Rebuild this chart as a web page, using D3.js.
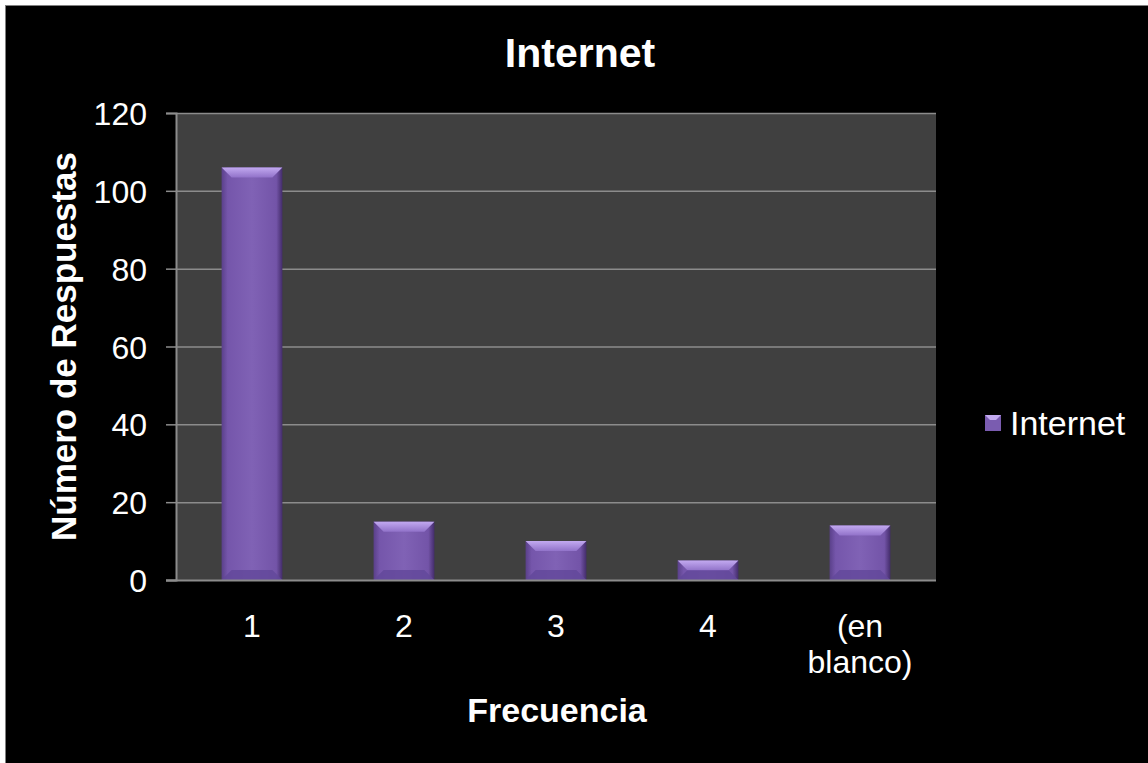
<!DOCTYPE html>
<html>
<head>
<meta charset="utf-8">
<script src="https://cdn.jsdelivr.net/npm/d3@7"></script>
<style>
  html, body { margin: 0; padding: 0; background: #ffffff; }
  svg { display: block; }
  text { font-family: "Liberation Sans", Arial, sans-serif; fill: #ffffff; }
</style>
</head>
<body>
<svg id="chart" width="1148" height="763"></svg>
<script>
// Survey answers: how often respondents use the Internet
const categories = ["1", "2", "3", "4", "(en blanco)"];
const values = [106, 15, 10, 5, 14];
const yTicks = [0, 20, 40, 60, 80, 100, 120];
const seriesName = "Internet";

const W = 1148, H = 763;
const margin = { left: 176, right: 212, top: 113, bottom: 183 };
const svg = d3.select("#chart");
const FONT = '"Liberation Sans", Arial, sans-serif';

// Slide background with a thin frame
svg.append("rect").attr("x", 5.5).attr("y", 5.5).attr("width", W).attr("height", H)
  .attr("fill", "#000").attr("stroke", "#808080").attr("stroke-width", 1);

const x = d3.scaleBand().domain(categories)
  .range([margin.left, W - margin.right]).paddingInner(0.6).paddingOuter(0.3);
const y = d3.scaleLinear().domain([0, 120]).range([H - margin.bottom, margin.top]);

// Plot area
svg.append("rect")
  .attr("x", margin.left).attr("y", margin.top)
  .attr("width", W - margin.left - margin.right)
  .attr("height", H - margin.top - margin.bottom)
  .attr("fill", "#404040");

// Gridlines
svg.append("g").selectAll("line").data(yTicks.filter(d => d > 0)).join("line")
  .attr("x1", margin.left).attr("x2", W - margin.right)
  .attr("y1", d => y(d) + 0.5).attr("y2", d => y(d) + 0.5)
  .attr("stroke", "#8c8c8c").attr("stroke-width", 1.5);

// Y axis
const yAxis = svg.append("g").attr("transform", `translate(${margin.left},0)`)
  .call(d3.axisLeft(y).tickValues(yTicks).tickSize(10).tickPadding(19));
yAxis.select(".domain").attr("stroke", "#8c8c8c").attr("stroke-width", 2);
yAxis.selectAll(".tick line").attr("stroke", "#8c8c8c").attr("stroke-width", 1.5);
yAxis.selectAll(".tick text").attr("fill", "#fff").style("font-size", "32px")
  .style("font-family", FONT).attr("dy", "0.36em");

// Bars with a bevelled look
const defs = svg.append("defs");
const body = defs.append("linearGradient").attr("id", "barBody").attr("x1", 0).attr("x2", 1);
body.append("stop").attr("offset", "0%").attr("stop-color", "#5a408a");
body.append("stop").attr("offset", "10%").attr("stop-color", "#7556ab");
body.append("stop").attr("offset", "50%").attr("stop-color", "#8062b5");
body.append("stop").attr("offset", "90%").attr("stop-color", "#7354a8");
body.append("stop").attr("offset", "100%").attr("stop-color", "#432c6a");
const topG = defs.append("linearGradient").attr("id", "barTop").attr("x1", 0).attr("x2", 0).attr("y1", 0).attr("y2", 1);
topG.append("stop").attr("offset", "0%").attr("stop-color", "#c2a9f0");
topG.append("stop").attr("offset", "100%").attr("stop-color", "#9172c9");

const bars = svg.append("g").selectAll("g").data(values).join("g");
const bw = x.bandwidth();
const bev = 10;
bars.append("rect")
  .attr("x", (d, i) => x(categories[i])).attr("y", d => y(d))
  .attr("width", bw).attr("height", d => y(0) - y(d))
  .attr("fill", "url(#barBody)");
// top bevel
bars.append("path")
  .attr("d", (d, i) => {
    const x0 = x(categories[i]), y0 = y(d);
    return `M${x0},${y0}H${x0 + bw}L${x0 + bw - bev},${y0 + bev}H${x0 + bev}Z`;
  })
  .attr("fill", "url(#barTop)");
// bottom bevel shade
bars.append("path")
  .attr("d", (d, i) => {
    const x0 = x(categories[i]), y1 = y(0), h = Math.min(bev, (y(0) - y(d)) / 2);
    return `M${x0},${y1}H${x0 + bw}L${x0 + bw - h},${y1 - h}H${x0 + h}Z`;
  })
  .attr("fill", "#62479a").attr("opacity", 0.8);

// X baseline
svg.append("line").attr("x1", margin.left - 10).attr("x2", W - margin.right)
  .attr("y1", y(0) + 0.5).attr("y2", y(0) + 0.5)
  .attr("stroke", "#8c8c8c").attr("stroke-width", 2);

// X category labels
const xl = svg.append("g").selectAll("text").data(categories).join("text")
  .attr("x", d => x(d) + bw / 2).attr("y", y(0) + 57)
  .attr("text-anchor", "middle").style("font-size", "32px");
xl.each(function(d) {
  const parts = d === "(en blanco)" ? ["(en", "blanco)"] : [d];
  const t = d3.select(this);
  parts.forEach((p, k) => t.append("tspan").attr("x", t.attr("x")).attr("dy", k === 0 ? 0 : 36).text(p));
});

// Title and axis titles
svg.append("text").attr("x", 580).attr("y", 67).attr("text-anchor", "middle")
  .style("font-size", "41px").style("font-weight", "bold").text("Internet");
svg.append("text").attr("x", 557).attr("y", 722).attr("text-anchor", "middle")
  .style("font-size", "34px").style("font-weight", "bold").text("Frecuencia");
svg.append("text").attr("transform", `translate(76,${(y(0) + y(120)) / 2}) rotate(-90)`)
  .attr("text-anchor", "middle")
  .style("font-size", "35px").style("font-weight", "bold").text("Número de Respuestas");

// Legend
const lg = svg.append("g").attr("transform", "translate(985,415)");
lg.append("rect").attr("width", 16).attr("height", 16).attr("fill", "#7a5cb0");
lg.append("path").attr("d", "M0,0H16L11,5H5Z").attr("fill", "#c2a9f0");
lg.append("text").attr("x", 25).attr("y", 20).style("font-size", "34px").text(seriesName);
</script>
</body>
</html>
